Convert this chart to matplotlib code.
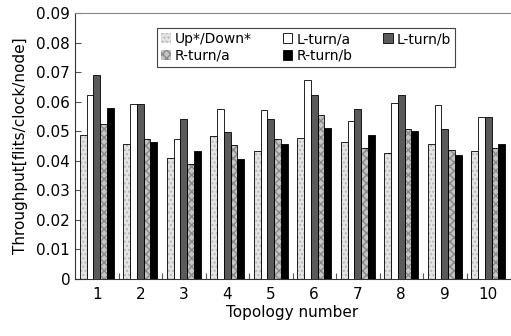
import numpy as np
import matplotlib
matplotlib.use("Agg")
import matplotlib.pyplot as plt
from matplotlib.ticker import FuncFormatter, FixedLocator
from matplotlib.patches import Patch

topologies = ["1", "2", "3", "4", "5", "6", "7", "8", "9", "10"]
series_names = ["Up*/Down*", "L-turn/a", "L-turn/b", "R-turn/a", "R-turn/b"]
up_down = [0.0486, 0.0456, 0.0410, 0.0485, 0.0433, 0.0477, 0.0462, 0.0425, 0.0456, 0.0432]
l_turn_a = [0.0622, 0.0593, 0.0475, 0.0575, 0.0573, 0.0672, 0.0534, 0.0597, 0.0590, 0.0547]
l_turn_b = [0.0690, 0.0591, 0.0542, 0.0496, 0.0540, 0.0622, 0.0574, 0.0622, 0.0508, 0.0548]
r_turn_a = [0.0524, 0.0475, 0.0389, 0.0453, 0.0472, 0.0554, 0.0444, 0.0507, 0.0436, 0.0444]
r_turn_b = [0.0579, 0.0465, 0.0433, 0.0405, 0.0458, 0.0511, 0.0488, 0.0500, 0.0421, 0.0458]
y_ticks = [0, 0.01, 0.02, 0.03, 0.04, 0.05, 0.06, 0.07, 0.08, 0.09]

series = [up_down, l_turn_a, l_turn_b, r_turn_a, r_turn_b]
faces = ["#e4e4e4", "#ffffff", "#5a5a5a", "#c4c4c4", "#000000"]
hatches = ["....", None, None, "xxxx", None]
hcolors = ["#b8b8b8", None, None, "#888888", None]

plt.rcParams['font.family'] = ['DejaVu Sans']
fig = plt.figure(figsize=(5.11, 3.36), dpi=100)
ax = fig.add_axes([75/511, 1 - 279/336, 435/511, 266/336])

x = np.arange(len(topologies))
bw = 0.155
n = len(series)
for i, (vals, fc, h, hc) in enumerate(zip(series, faces, hatches, hcolors)):
    pos = x + (i - (n - 1) / 2) * bw
    if h:
        ax.bar(pos, vals, width=bw, color=fc, edgecolor=hc, hatch=h, linewidth=0, zorder=2)
        ax.bar(pos, vals, width=bw, facecolor="none", edgecolor="black", linewidth=0.6, zorder=3)
    else:
        ax.bar(pos, vals, width=bw, color=fc, edgecolor="black", linewidth=0.6, zorder=3)

ax.set_xlim(-0.5, len(topologies) - 0.5)
ax.set_ylim(0, 0.09)
ax.set_yticks(y_ticks)
ax.yaxis.set_major_formatter(FuncFormatter(lambda v, p: "0" if abs(v) < 1e-9 else f"{v:.2f}"))
ax.set_xticks(x)
ax.set_xticklabels(topologies)
ax.tick_params(axis='x', length=0, labelsize=11, pad=6)
ax.xaxis.set_minor_locator(FixedLocator(x[1:] - 0.5))
ax.tick_params(axis='x', which='minor', direction='in', length=4, width=0.8, color='#555555')
ax.tick_params(axis='y', direction='in', length=4, width=0.8, labelsize=11, color='#555555')

ax.spines['right'].set_visible(False)
ax.spines['top'].set_color('#888888')
ax.spines['top'].set_linewidth(0.8)
ax.spines['left'].set_color('#333333')
ax.spines['bottom'].set_color('#333333')

ax.set_ylabel("Throughput[flits/clock/node]", fontsize=11, labelpad=6)
ax.set_xlabel("Topology number", fontsize=11, labelpad=2)

def handle(i):
    if hatches[i]:
        return Patch(facecolor=faces[i], edgecolor=hcolors[i], hatch=hatches[i], linewidth=0)
    return Patch(facecolor=faces[i], edgecolor="black", linewidth=0.6)

order = [0, 3, 1, 4, 2]
leg = ax.legend([handle(i) for i in order], [series_names[i] for i in order], ncol=3,
                loc='upper left', bbox_to_anchor=(82/435, 1 - 15/266), fontsize=10,
                frameon=True, fancybox=False, edgecolor='#444444', framealpha=1,
                handlelength=0.7, handleheight=0.7, handletextpad=0.3,
                columnspacing=2.2, labelspacing=0.2, borderpad=0.3, borderaxespad=0)
leg.get_frame().set_linewidth(0.8)

fig.savefig("out.png", dpi=100)
